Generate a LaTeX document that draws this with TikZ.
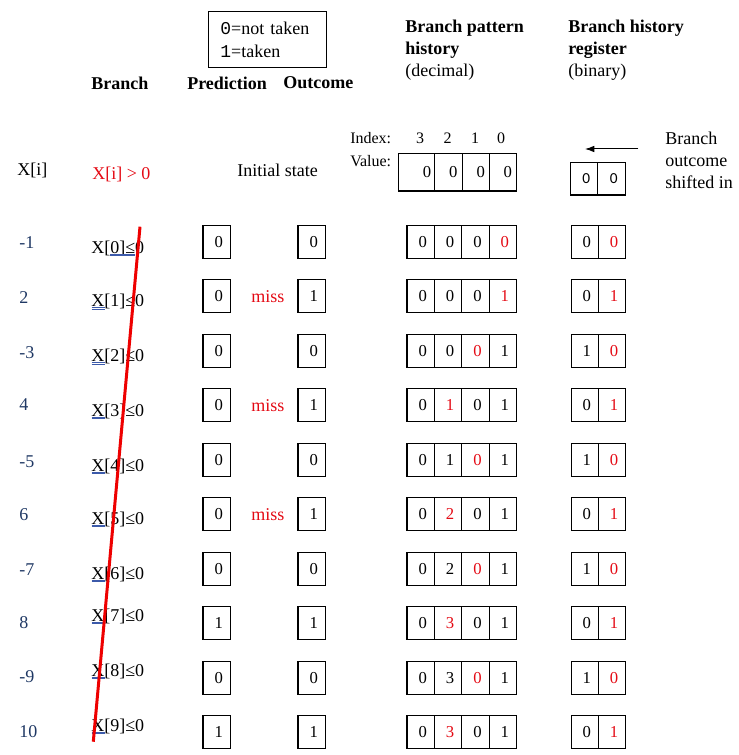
\documentclass[tikz,border=0pt]{standalone}
\usepackage{fontspec}
\setmainfont{Liberation Serif}
\newfontfamily\monofont{Liberation Mono}
\newfontfamily\calfont{Carlito}
\usetikzlibrary{arrows.meta}
\definecolor{navy}{RGB}{31,56,100}
\definecolor{redtxt}{RGB}{228,10,20}
\definecolor{redline}{RGB}{238,0,0}
\definecolor{ulblue}{RGB}{60,90,170}
\begin{document}
\begin{tikzpicture}[x=0.75pt,y=-0.75pt,
  txt/.style={inner sep=0pt, anchor=west, font=\fontsize{13.5}{16.5}\selectfont},
  hdr/.style={txt, font=\fontsize{13.5}{16.5}\selectfont\bfseries},
  small/.style={txt, font=\fontsize{12}{14}\selectfont},
  cell/.style={draw, line width=0.9pt, inner sep=0pt, minimum width=20.55pt,
    minimum height=24.75pt, font=\fontsize{12.5}{15}\selectfont,
    execute at begin node=\hspace*{3pt}},
  num/.style={txt, text=navy},
  misslbl/.style={txt, text=redtxt},
  uline/.style={ulblue, line width=0.45pt},
  redstroke/.style={redline, line width=2.25pt},
  shiftarrow/.style={-{Latex[length=7pt,width=5pt]}, line width=0.75pt},
]
\useasboundingbox (0,0) rectangle (738,755);

% legend
\node[draw, line width=0.75pt, minimum width=88.5pt, minimum height=42pt,
  inner xsep=9pt, text width=70pt, align=left,
  font=\fontsize{13.5}{17.25}\selectfont] (legend) at (267,40)
  {{\monofont 0}=not taken\\{\monofont 1}=taken};

% headers
\node[hdr] (hbranch) at (91,83) {Branch};
\node[hdr] (hpred) at (187,83) {Prediction};
\node[hdr] (hout) at (283,83) {Outcome};
\node[txt, align=left] (hpat) at (405,50) {\textbf{Branch pattern}\\\textbf{history}\\(decimal)};
\node[txt, align=left] (hreg) at (568,50) {\textbf{Branch history}\\\textbf{register}\\(binary)};

% index / value
\node[small] (index) at (350,138) {Index:};
\foreach \d/\x in {3/420,2/447.7,1/475,0/501}
  \node[inner sep=0pt, font=\fontsize{12}{14}\selectfont] (idx\d) at (\x,138) {\d};
\node[small] (value) at (350,161) {Value:};

% initial pattern
\node[cell, minimum width=27pt, minimum height=28.3pt, execute at begin node=\hspace*{13pt}] (p0c1) at (416.3,172.2) {0};
\node[cell, minimum width=21.3pt, minimum height=28.3pt, execute at begin node=\hspace*{4pt}] (p0c2) at (448.5,172.2) {0};
\node[cell, minimum width=19.95pt, minimum height=28.3pt, execute at begin node=\hspace*{4pt}] (p0c3) at (476,172.2) {0};
\node[cell, minimum width=20.55pt, minimum height=28.3pt, execute at begin node=\hspace*{4pt}] (p0c4) at (503,172.2) {0};

% initial history
\node[cell, minimum width=20.25pt, minimum height=24.5pt, execute at begin node={},
  font=\calfont\fontsize{11.5}{14}\selectfont] (hA0) at (584.2,178.7) {0};
\node[cell, minimum width=21pt, minimum height=24.5pt, execute at begin node={},
  font=\calfont\fontsize{11.5}{14}\selectfont] (hB0) at (611.7,178.7) {0};

% shift arrow
\coordinate (arrS) at (638.3,149);
\coordinate (arrE) at (585,149);
\draw[shiftarrow] (arrS) -- (arrE);
\node[txt, align=left] (shiftlbl) at (665,160.5) {Branch\\outcome\\shifted in};

% initial row texts
\node[txt] (xi) at (17,170) {X[i]};
\node[txt, text=redtxt] (cond) at (92,174) {X[i] > 0};
\node[txt] (init) at (237,170) {Initial state};

% rows
\foreach \k/\pr/\oc/\pa/\pb/\pc/\pd/\rc/\ha/\hb in {
  1/0/0/0/0/0/0/4/0/0,
  2/0/1/0/0/0/1/4/0/1,
  3/0/0/0/0/0/1/3/1/0,
  4/0/1/0/1/0/1/2/0/1,
  5/0/0/0/1/0/1/3/1/0,
  6/0/1/0/2/0/1/2/0/1,
  7/0/0/0/2/0/1/3/1/0,
  8/1/1/0/3/0/1/2/0/1,
  9/0/0/0/3/0/1/3/1/0,
  10/1/1/0/3/0/1/2/0/1}
{
  \pgfmathsetmacro\cy{241.8+54.5*(\k-1)}
  \node[cell, minimum width=20.8pt] (pred\k) at (216.9,\cy) {\pr};
  \node[cell, minimum width=20.8pt] (out\k) at (311.9,\cy) {\oc};
  \foreach \j/\v in {1/\pa,2/\pb,3/\pc,4/\pd} {
    \ifnum\j=\rc\relax \def\cellcol{redtxt}\else\def\cellcol{black}\fi
    \node[cell, text=\cellcol] (p\k c\j) at ({420.7+27.4*(\j-1)},\cy) {\v};
  }
  \node[cell, minimum width=20.4pt] (hA\k) at (584.8,\cy) {\ha};
  \node[cell, minimum width=20.4pt, text=redtxt] (hB\k) at (612,\cy) {\hb};
}

% misses
\foreach \k in {2,4,6}
  \node[misslbl] (miss\k) at (251,{241.8+54.5*(\k-1)}) {miss};

% left numbers
\foreach \v/\y [count=\i] in {-1/243,2/298,-3/353,4/405,-5/462,6/515,-7/570,8/623,-9/677,10/732}
  \node[num] (n\i) at (19,\y) {\v};

% branch labels
\foreach \y [count=\i] in {247,300.7,355.7,410,465,518,573,615,670,725} {
  \pgfmathtruncatemacro\ix{\i-1}
  \node[txt, anchor=base west] (b\i) at (91,\y+6) {X[\ix]≤0};
}
\draw[uline] ([shift={(19,1)}]b1.base west) -- ([shift={(44,1)}]b1.base west);
\draw[uline] ([shift={(19,2.6)}]b1.base west) -- ([shift={(44,2.6)}]b1.base west);
\foreach \i in {2,...,10} {
  \draw[uline] ([shift={(0.5,1)}]b\i.base west) -- ([shift={(14,1)}]b\i.base west);
  \draw[uline] ([shift={(0.5,2.6)}]b\i.base west) -- ([shift={(14,2.6)}]b\i.base west);
}

% red strike line
\coordinate (rlTop) at (140,226.7);
\coordinate (rlBot) at (93.3,741.7);
\draw[redstroke] (rlTop) -- (rlBot);
\end{tikzpicture}
\end{document}
